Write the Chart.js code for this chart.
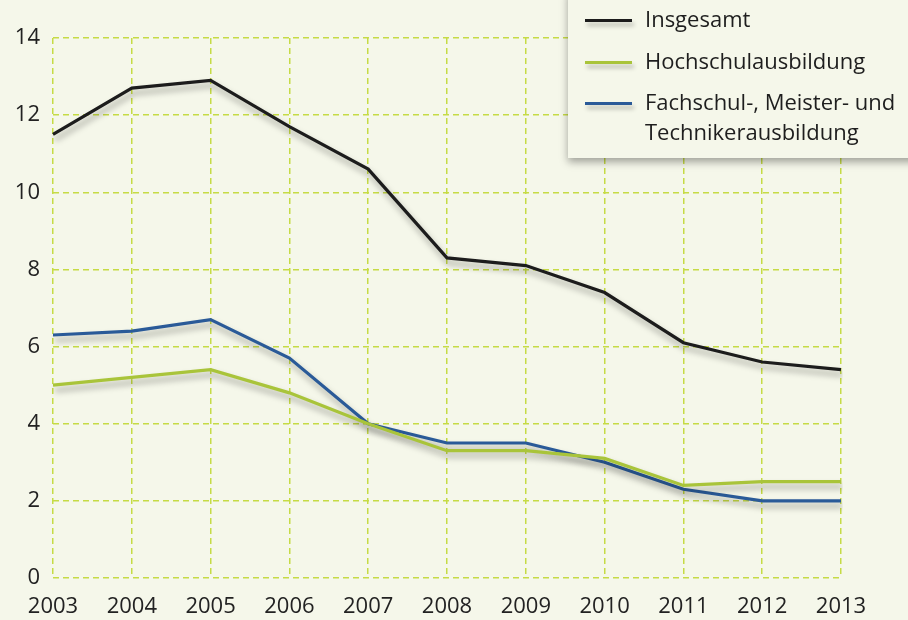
<!DOCTYPE html>
<html>
<head>
<meta charset="utf-8">
<script src="https://cdn.jsdelivr.net/npm/chart.js@4"></script>
<style>
  html, body { margin: 0; padding: 0; background: #f5f7ea; }
  #wrap { position: relative; width: 908px; height: 620px; }
  #legend {
    position: absolute; left: 568px; top: -10px; width: 360px; height: 168px;
    background: #f5f7ea; box-shadow: 0 4px 8px rgba(0,0,0,0.35);
    font-family: "Open Sans", sans-serif; font-size: 22px; color: #1e1e1e;
  }
  .item { position: absolute; left: 17px; }
  .swatch { position: absolute; left: 0; width: 47px; height: 3px; box-shadow: 2px 4px 4px rgba(0,0,0,0.25); }
  .label { position: absolute; left: 60px; white-space: nowrap; line-height: 30px; }
</style>
</head>
<body>
<div id="wrap">
  <canvas id="chart" width="908" height="620"></canvas>
  <div id="legend"></div>
</div>
<script>
const years = ["2003", "2004", "2005", "2006", "2007", "2008", "2009", "2010", "2011", "2012", "2013"];
const insgesamt = [11.5, 12.7, 12.9, 11.7, 10.6, 8.3, 8.1, 7.4, 6.1, 5.6, 5.4];
const hochschul = [5.0, 5.2, 5.4, 4.8, 4.0, 3.3, 3.3, 3.1, 2.4, 2.5, 2.5];
const fachschul = [6.3, 6.4, 6.7, 5.7, 4.0, 3.5, 3.5, 3.0, 2.3, 2.0, 2.0];
const seriesNames = ["Insgesamt", "Hochschulausbildung", "Fachschul-, Meister- und\nTechnikerausbildung"];
const colors = ["#1c1c1c", "#a9c43a", "#2a5a98"];

// drop shadow under the lines
const shadowPlugin = {
  id: "shadow",
  beforeDatasetDraw(chart) {
    const ctx = chart.ctx;
    ctx.save();
    ctx.shadowColor = "rgba(0,0,0,0.35)";
    ctx.shadowBlur = 6;
    ctx.shadowOffsetX = 2;
    ctx.shadowOffsetY = 5;
  },
  afterDatasetDraw(chart) {
    chart.ctx.restore();
  }
};

const gridColor = "#c6db45";
const ctx = document.getElementById("chart");
const chart = new Chart(ctx, {
  type: "line",
  data: {
    labels: years,
    datasets: [
      { label: seriesNames[0], data: insgesamt, borderColor: colors[0] },
      { label: seriesNames[1], data: hochschul, borderColor: colors[1] },
      { label: seriesNames[2], data: fachschul, borderColor: colors[2] },
    ].map(d => Object.assign(d, { borderWidth: 3.2, pointRadius: 0, tension: 0, fill: false })),
  },
  options: {
    responsive: false,
    animation: { duration: 0 },
    layout: { padding: { left: 0, right: 67, top: 38, bottom: 0 } },
    plugins: { legend: { display: false }, tooltip: { enabled: false } },
    scales: {
      x: {
        offset: false,
        grid: { color: gridColor, lineWidth: 1.5, drawTicks: false },
        border: { display: false, dash: [6, 4] },
        ticks: { color: "#222", font: { family: "Open Sans", size: 22 }, padding: 16, maxRotation: 0, autoSkip: false },
        afterFit(axis) { axis.height = 42; },
      },
      y: {
        min: 0, max: 14,
        grid: { color: gridColor, lineWidth: 1.5, drawTicks: false },
        border: { display: false, dash: [6, 4] },
        ticks: { stepSize: 2, color: "#222", font: { family: "Open Sans", size: 22 }, padding: 13 },
        afterFit(axis) { axis.width = 53; },
      },
    },
  },
  plugins: [shadowPlugin],
});

// html legend
const legend = document.getElementById("legend");
const tops = [30, 72, 113];
seriesNames.forEach((name, i) => {
  const item = document.createElement("div");
  item.className = "item";
  item.style.top = tops[i] + "px";
  const sw = document.createElement("div");
  sw.className = "swatch";
  sw.style.background = colors[i];
  sw.style.top = "-1px";
  const lab = document.createElement("div");
  lab.className = "label";
  lab.style.top = "-17px";
  lab.innerHTML = name.replace("\n", "<br>");
  item.appendChild(sw);
  item.appendChild(lab);
  legend.appendChild(item);
});
</script>
</body>
</html>
